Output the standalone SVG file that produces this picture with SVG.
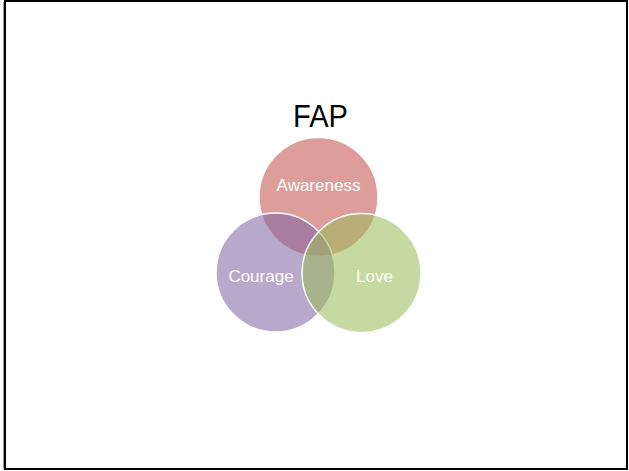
<svg xmlns="http://www.w3.org/2000/svg" width="629" height="471" viewBox="0 0 629 471">
  <style>
    .set { stroke: #ffffff; stroke-width: 1.5; fill-opacity: 0.56; }
    .lbl { font-family: "Liberation Sans", Arial, sans-serif; font-size: 17px; fill: #ffffff; text-anchor: middle; }
    .title { font-family: "Liberation Sans", Arial, sans-serif; font-size: 32px; fill: #000000; text-anchor: middle; }
  </style>
  <rect x="0" y="0" width="629" height="471" fill="#ffffff"/>
  <!-- slide frame -->
  <line x1="3.5" y1="2" x2="3.5" y2="469" stroke="#9a9a9a" stroke-width="1"/>
  <rect x="5" y="1" width="622" height="468" fill="none" stroke="#000000" stroke-width="2"/>

  <text class="title" x="320.5" y="127" textLength="55" lengthAdjust="spacingAndGlyphs">FAP</text>

  <g id="awareness">
    <circle class="set" cx="318.5" cy="197" r="59.5" fill="#C0504D"/>
    <text class="lbl" x="318.5" y="191">Awareness</text>
  </g>
  <g id="courage">
    <circle class="set" cx="275.5" cy="272.5" r="59.5" fill="#8064A2"/>
    <text class="lbl" x="261" y="282">Courage</text>
  </g>
  <g id="love">
    <circle class="set" cx="361.5" cy="273" r="59.5" fill="#9BBB59"/>
    <text class="lbl" x="374.5" y="282">Love</text>
  </g>
  <g id="connectors"/>
</svg>
